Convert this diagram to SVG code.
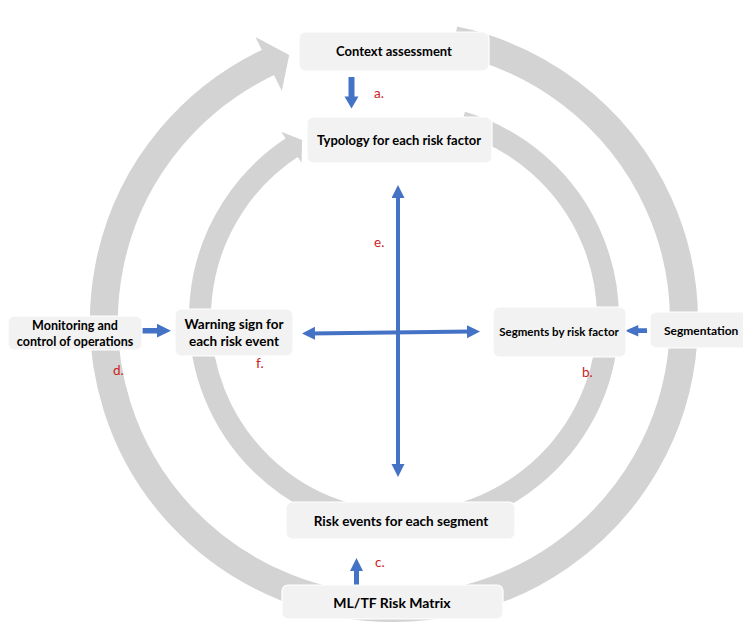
<svg xmlns="http://www.w3.org/2000/svg" width="743" height="635" viewBox="0 0 743 635">
<style>
.ring{fill:none;stroke:#D3D3D3}
.head{fill:#D3D3D3}
.box{fill:#F2F2F2;stroke:#FFFFFF;stroke-width:1.2}
.t{font-family:Lato,"Liberation Sans",sans-serif;font-weight:bold;fill:#000;text-anchor:middle}
.lbl{font-family:Lato,"Liberation Sans",sans-serif;font-size:13.5px;fill:#CC2222}
.blue{fill:#4472C4}
.bl{stroke:#4472C4;stroke-width:4;fill:none}
</style>
<defs>
<marker id="ah" markerUnits="userSpaceOnUse" markerWidth="14" markerHeight="14" refX="5" refY="6.5" orient="auto-start-reverse">
<path d="M0,0 L13,6.5 L0,13 z" fill="#4472C4"/>
</marker>
</defs>
<rect width="743" height="635" fill="#FFFFFF"/>
<g id="cycles">
<path class="ring" stroke-width="28" d="M454.3,40.3 A290,287 0 1 1 271.4,60.9"/>
<polygon class="head" points="255.5,37 289.2,54.9 281.8,90.9"/>
<path class="ring" stroke-width="22" d="M461.9,122.4 A204,204 0 1 1 294.4,145.9"/>
<polygon class="head" points="281.2,131.8 302.1,140.1 301.6,162.7"/>
</g>
<g id="connectors">
<polygon class="blue" points="348.5,77 354.5,77 354.5,96.5 358.5,96.5 351.5,108.5 344.5,96.5 348.5,96.5"/>
<polygon class="blue" points="354,587 359,587 359,571 363,571 356.5,558 350,571 354,571"/>
<polygon class="blue" points="137,328 157,328 157,323.8 171,330.7 157,337.6 157,333.4 137,333.4"/>
<polygon class="blue" points="647,328.3 638.3,328.3 638.3,325 625,330.7 638.3,336.4 638.3,333.1 647,333.1"/>
<line class="bl" x1="398" y1="193" x2="398" y2="469" marker-start="url(#ah)" marker-end="url(#ah)"/>
<line class="bl" x1="310" y1="333.4" x2="472" y2="331.6" marker-start="url(#ah)" marker-end="url(#ah)"/>
</g>
<g id="context">
<rect class="box" x="299" y="32" width="190" height="39" rx="6"/>
<text class="t" x="394" y="56" font-size="13">Context assessment</text>
</g>
<g id="typology">
<rect class="box" x="307" y="117" width="185" height="46" rx="6"/>
<text class="t" x="399" y="145" font-size="13">Typology for each risk factor</text>
</g>
<g id="monitoring">
<rect class="box" x="8" y="316" width="134" height="34" rx="6"/>
<text class="t" x="75" y="329.5" font-size="12.5">Monitoring and</text>
<text class="t" x="75" y="345.5" font-size="12.5">control of operations</text>
</g>
<g id="warning">
<rect class="box" x="175" y="309" width="118" height="47" rx="6"/>
<text class="t" x="234" y="329" font-size="13.5">Warning sign for</text>
<text class="t" x="234" y="346" font-size="13.5">each risk event</text>
</g>
<g id="segments">
<rect class="box" x="493" y="307" width="133" height="50" rx="6"/>
<text class="t" x="559" y="336" font-size="11.5">Segments by risk factor</text>
</g>
<g id="segmentation">
<rect class="box" x="650" y="312" width="110" height="36" rx="6"/>
<text class="t" x="664" y="334.5" font-size="12" style="text-anchor:start">Segmentation</text>
</g>
<g id="riskevents">
<rect class="box" x="286" y="502" width="229" height="37" rx="6"/>
<text class="t" x="401" y="526" font-size="13.5">Risk events for each segment</text>
</g>
<g id="matrix">
<rect class="box" x="282" y="585" width="221" height="34" rx="6"/>
<text class="t" x="392" y="608" font-size="14">ML/TF Risk Matrix</text>
</g>
<g id="labels">
<text class="lbl" x="374" y="98">a.</text>
<text class="lbl" x="582" y="377">b.</text>
<text class="lbl" x="375" y="567">c.</text>
<text class="lbl" x="113" y="375">d.</text>
<text class="lbl" x="374" y="246.5">e.</text>
<text class="lbl" x="256" y="368">f.</text>
</g>
</svg>
